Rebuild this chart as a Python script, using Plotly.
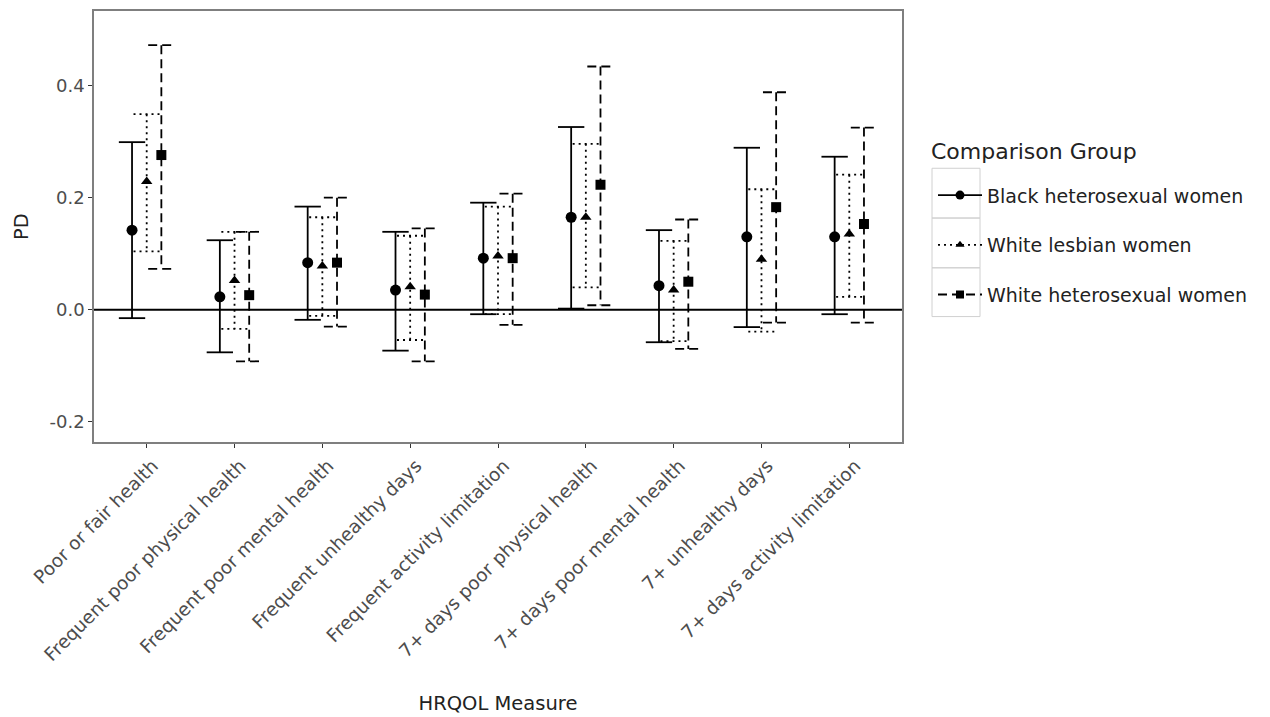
import plotly.graph_objects as go

categories = [
    "Poor or fair health",
    "Frequent poor physical health",
    "Frequent poor mental health",
    "Frequent unhealthy days",
    "Frequent activity limitation",
    "7+ days poor physical health",
    "7+ days poor mental health",
    "7+ unhealthy days",
    "7+ days activity limitation",
]
groups = ["Black heterosexual women", "White lesbian women", "White heterosexual women"]

black_het_pd = [0.142, 0.023, 0.084, 0.035, 0.092, 0.165, 0.043, 0.130, 0.130]
black_het_lo = [-0.015, -0.076, -0.018, -0.073, -0.008, 0.002, -0.058, -0.031, -0.008]
black_het_hi = [0.299, 0.124, 0.184, 0.139, 0.191, 0.326, 0.142, 0.289, 0.273]

white_les_pd = [0.229, 0.052, 0.078, 0.041, 0.096, 0.165, 0.035, 0.090, 0.135]
white_les_lo = [0.104, -0.034, -0.011, -0.054, -0.008, 0.040, -0.056, -0.039, 0.023]
white_les_hi = [0.349, 0.139, 0.165, 0.132, 0.184, 0.296, 0.123, 0.215, 0.241]

white_het_pd = [0.276, 0.026, 0.084, 0.027, 0.092, 0.223, 0.050, 0.183, 0.153]
white_het_lo = [0.073, -0.092, -0.030, -0.092, -0.027, 0.008, -0.070, -0.023, -0.023]
white_het_hi = [0.472, 0.139, 0.200, 0.145, 0.207, 0.434, 0.161, 0.388, 0.325]

y_ticks = [-0.2, 0.0, 0.2, 0.4]

series = [
    (groups[0], black_het_pd, black_het_lo, black_het_hi),
    (groups[1], white_les_pd, white_les_lo, white_les_hi),
    (groups[2], white_het_pd, white_het_lo, white_het_hi),
]
dodge = [-0.167, 0.0, 0.167]
dashes = ["solid", "2px,4px", "9px,5px"]
symbols = ["circle", "triangle-up", "square"]
msizes = [11, 10, 10]
cap = 0.15

FONT = "DejaVu Sans, Arial, sans-serif"
fig = go.Figure()

for gi, (name, pd_, lo, hi) in enumerate(series):
    xs, ys = [], []
    for ci in range(len(categories)):
        xc = ci + 1 + dodge[gi]
        xs += [xc - cap, xc + cap, None]
        ys += [hi[ci], hi[ci], None]
        xs += [xc, xc, None]
        ys += [hi[ci], lo[ci], None]
        xs += [xc - cap, xc + cap, None]
        ys += [lo[ci], lo[ci], None]
    fig.add_trace(go.Scatter(
        x=xs, y=ys, mode="lines", showlegend=False, hoverinfo="skip",
        line=dict(color="black", width=1.8, dash=dashes[gi]),
    ))
    fig.add_trace(go.Scatter(
        x=[i + 1 + dodge[gi] for i in range(len(categories))], y=pd_,
        mode="markers", showlegend=False, name=name,
        marker=dict(symbol=symbols[gi], size=msizes[gi], color="black"),
    ))
    fig.add_trace(go.Scatter(
        x=[None], y=[None], mode="lines+markers", name=name,
        legendgroup=name,
        line=dict(color="black", width=1.8, dash=dashes[gi]),
        marker=dict(symbol=symbols[gi], size=msizes[gi] - 2, color="black"),
    ))

fig.add_hline(y=0, line=dict(color="black", width=1.8), layer="below")

plot_top, plot_bottom, plot_left, plot_right = 9, 442, 94, 902
ph = plot_bottom - plot_top
pw = plot_right - plot_left

# legend key boxes (theme_bw legend.key border)
key_box_px = [(167, 217), (217, 267), (267, 316)]
for top, bot in key_box_px:
    fig.add_shape(
        type="rect", xref="paper", yref="paper",
        x0=(932 - plot_left) / pw, x1=(980 - plot_left) / pw,
        y0=(plot_bottom - bot) / ph, y1=(plot_bottom - top) / ph,
        line=dict(color="#d0d0d0", width=1), fillcolor="rgba(0,0,0,0)",
        layer="below",
    )

# legend title
fig.add_annotation(
    text="Comparison Group", xref="paper", yref="paper",
    x=(929 - plot_left) / pw, xanchor="left",
    y=(plot_bottom - 150) / ph, yanchor="middle",
    showarrow=False, font=dict(size=22, color="#222222"),
)

fig.update_layout(
    width=1262, height=709,
    margin=dict(l=86, r=368, t=1, b=275),
    paper_bgcolor="white", plot_bgcolor="white",
    font=dict(family=FONT, color="#333333"),
    legend=dict(
        x=(933 - plot_left) / pw, xanchor="left",
        y=(plot_bottom - 175) / ph, yanchor="top",
        font=dict(size=19, color="#222222"),
        itemwidth=44,
        tracegroupgap=22, traceorder="grouped",
        bgcolor="rgba(0,0,0,0)",
    ),
    xaxis=dict(
        range=[0.4, 9.6], tickmode="array",
        tickvals=list(range(1, len(categories) + 1)), ticktext=categories,
        tickangle=-45, tickfont=dict(size=18.5, color="#4d4d4d"),
        ticklabelshift=6,
        ticks="outside", ticklen=4, tickcolor="#333333",
        showgrid=False, zeroline=False,
        showline=True, linecolor="#7f7f7f", linewidth=1.5, mirror=True,
        title=dict(text="HRQOL Measure", font=dict(size=19.5, color="#222222"), standoff=32),
    ),
    yaxis=dict(
        range=[-0.236, 0.533], tickmode="array", tickvals=y_ticks,
        ticktext=[f"{v:.1f}" for v in y_ticks],
        tickfont=dict(size=18, color="#4d4d4d"),
        ticks="outside", ticklen=4, tickcolor="#333333",
        showgrid=False, zeroline=False,
        showline=True, linecolor="#7f7f7f", linewidth=1.5, mirror=True,
        title=dict(text="PD", font=dict(size=19.5, color="#222222"), standoff=16),
    ),
)

fig.write_html("out.html")
